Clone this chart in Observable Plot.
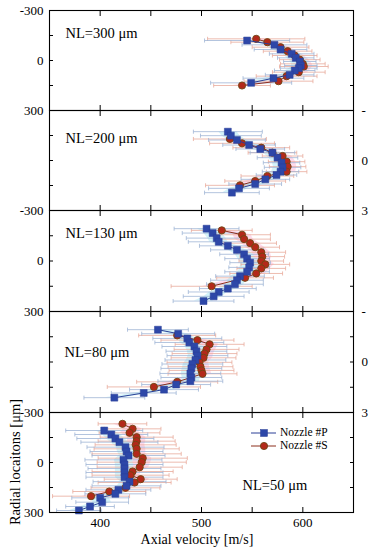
<!DOCTYPE html>
<html>
<head>
<meta charset="utf-8">
<script src="https://cdn.jsdelivr.net/npm/d3@7"></script>
<script src="https://cdn.jsdelivr.net/npm/@observablehq/plot@0.6"></script>
<style>
  html, body { margin: 0; padding: 0; background: #fff; }
  #chart { position: relative; width: 371px; height: 550px; overflow: hidden; font-family: "Liberation Serif", "Times New Roman", serif; }
  #chart svg { position: absolute; left: 0; }
  .ytitle { position: absolute; white-space: nowrap; transform: translate(-50%, -50%) rotate(-90deg); font-size: 14.5px; }
  .xtitle { position: absolute; white-space: nowrap; transform: translate(-50%, -50%); font-size: 14px; }
  .legend { position: absolute; font-size: 11.5px; line-height: 13px; }
  .legend div { display: flex; align-items: center; height: 13px; }
  .legend svg { position: static !important; margin-right: 3px; }
</style>
</head>
<body>
<div id="chart"></div>
<script>
// ---------- data ----------
const panelLabels = ["NL=300 μm", "NL=200 μm", "NL=130 μm", "NL=80 μm", "NL=50 μm"];
const seriesNames = ["Nozzle #P", "Nozzle #S"];
const xTickValues = [400, 450, 500, 550, 600];
const xTickLabelValues = [400, 500, 600];
const yTickValues = [-300, -150, 0, 150, 300];
const yLabelValues = [-300, 0, 300];
const leftTickLabels = [["-300", "0", ""], ["300", "", ""], ["-300", "0", ""], ["300", "", "-300"], ["", "0", "300"]];
// right-hand labels are only partly visible at the picture's edge
const rightTickLabels = [["", "", ""], ["-", "0", "3"], ["", "", ""], ["-", "0", "3"], ["", "", ""]];

// NL = 300 um
const p300_r = [-120, -94, -66, -40, -16, 6, 30, 46, 60, 86, 106, 134];
const p300_v = [545, 572, 578, 589, 593, 597, 598, 596, 592, 587, 571, 549];
const p300_e = [42, 32, 26, 22, 18, 16, 16, 18, 20, 24, 30, 40];
const s300_r = [-130, -110, -80, -56, -30, -5, 20, 36, 70, 94, 124, 150];
const s300_v = [554, 565, 578, 585, 592, 597, 600, 601, 596, 584, 576, 540];
const s300_e = [48, 36, 28, 24, 22, 20, 22, 24, 26, 30, 34, 28];

// NL = 200 um
const p200_r = [-173, -149, -123, -93, -69, -47, -17, 13, 41, 67, 87, 113, 141, 167, 193];
const p200_v = [526, 529, 535, 547, 558, 570, 575, 579, 580, 578, 574, 563, 553, 537, 530];
const p200_e = [34, 30, 28, 26, 24, 22, 20, 18, 18, 18, 20, 24, 26, 30, 27];
const s200_r = [-129, -103, -77, -47, -27, 7, 37, 67, 93, 123, 149];
const s200_v = [528, 540, 559, 570, 580, 584, 585, 584, 565, 553, 538];
const s200_e = [36, 32, 28, 24, 20, 18, 18, 20, 26, 30, 34];

// NL = 130 um
const p130_r = [-192, -166, -136, -114, -90, -66, -40, -14, 10, 38, 64, 90, 114, 138, 164, 184, 210, 238];
const p130_v = [505, 511, 515, 517, 526, 535, 542, 545, 548, 547, 545, 538, 535, 533, 526, 517, 512, 502];
const p130_e = [32, 30, 30, 30, 28, 26, 24, 22, 20, 20, 22, 24, 26, 28, 28, 30, 30, 30];
const s130_r = [-182, -156, -130, -106, -82, -52, -26, 0, 20, 44, 74, 100, 150];
const s130_v = [520, 540, 542, 548, 553, 559, 560, 559, 563, 559, 554, 543, 510];
const s130_e = [30, 28, 26, 26, 24, 24, 22, 22, 24, 24, 26, 28, 40];

// NL = 80 um
const p80_r = [-192, -168, -140, -116, -92, -64, -38, -12, 12, 38, 68, 92, 114, 134, 164, 184, 212];
const p80_v = [457, 477, 486, 488, 493, 495, 496, 494, 491, 490, 489, 490, 489, 475, 463, 443, 414];
const p80_e = [30, 36, 34, 34, 32, 30, 30, 30, 30, 30, 30, 30, 32, 34, 34, 32, 30];
const s80_r = [-158, -130, -105, -75, -50, -25, 2, 28, 50, 70, 118, 148];
const s80_v = [476, 496, 508, 505, 503, 502, 498, 499, 500, 501, 476, 453];
const s80_e = [38, 36, 34, 32, 32, 32, 32, 32, 32, 34, 40, 46];

// NL = 50 um
const p50_r = [-192, -168, -144, -122, -92, -66, -42, -16, 12, 36, 60, 88, 115, 140, 164, 188, 212, 238, 264, 288];
const p50_v = [404, 411, 415, 419, 425, 426, 428, 423, 424, 424, 424, 424, 429, 426, 418, 415, 400, 402, 390, 379];
const p50_e = [38, 36, 38, 38, 38, 36, 36, 38, 38, 36, 38, 38, 36, 34, 32, 30, 28, 26, 24, 22];
const s50_r = [-232, -202, -178, -152, -128, -106, -82, -52, -26, -2, 28, 54, 76, 100, 120, 152, 174, 202];
const s50_v = [422, 432, 429, 436, 436, 435, 436, 436, 442, 441, 439, 432, 430, 440, 434, 425, 409, 391];
const s50_e = [24, 28, 30, 36, 38, 40, 42, 44, 44, 44, 42, 40, 38, 36, 36, 34, 36, 38];

const pR = [p300_r, p200_r, p130_r, p80_r, p50_r];
const pV = [p300_v, p200_v, p130_v, p80_v, p50_v];
const pE = [p300_e, p200_e, p130_e, p80_e, p50_e];
const sR = [s300_r, s200_r, s130_r, s80_r, s50_r];
const sV = [s300_v, s200_v, s130_v, s80_v, s50_v];
const sE = [s300_e, s200_e, s130_e, s80_e, s50_e];

// ---------- layout & style ----------
const W = 371;
const panelTops = [10, 110, 210, 311, 412];
const panelHeights = [100, 100, 101, 101, 100];
const bandHalf = 9;
const fontFam = '"Liberation Serif", "Times New Roman", serif';
const colP = { line: "#2a3f96", fill: "#2d47a8", err: "#9fb5d6", band: "#cdf1f8" };
const colS = { line: "#8c2e1c", fill: "#b3291a", stroke: "#6e4714", err: "#e8ab9c", band: "#ffd4e8" };
const textPos = [[16, 23], [16, 28], [16, 23], [15, 41], [193, 73]];

const capSymbol = {
  draw(ctx, size) { const h = Math.sqrt(size) / 2; ctx.moveTo(0, -h); ctx.lineTo(0, h); }
};

const rows = (r, v, e) => r.map((d, i) => ({ r: d, v: v[i], e: e[i] }));
const chart = document.getElementById("chart");

function errorMarks(data, col) {
  return [
    Plot.link(data, { x1: d => d.v - d.e, x2: d => d.v + d.e, y1: "r", y2: "r", stroke: col.err, strokeWidth: 0.8 }),
    Plot.dot(data, { x: d => d.v - d.e, y: "r", symbol: capSymbol, r: 2.3, stroke: col.err, strokeWidth: 0.8, fill: "none" }),
    Plot.dot(data, { x: d => d.v + d.e, y: "r", symbol: capSymbol, r: 2.3, stroke: col.err, strokeWidth: 0.8, fill: "none" })
  ];
}

for (let k = 0; k < 5; k++) {
  const P = rows(pR[k], pV[k], pE[k]);
  const S = rows(sR[k], sV[k], sE[k]);
  const mt = 12, mb = k === 4 ? 40 : 12;
  const last = k === 4;
  const marks = [
    Plot.areaX(S, { y: "r", x1: d => d.v - bandHalf, x2: d => d.v + bandHalf, fill: colS.band, fillOpacity: 0.85 }),
    Plot.areaX(P, { y: "r", x1: d => d.v - bandHalf, x2: d => d.v + bandHalf, fill: colP.band, fillOpacity: 0.85 }),
    ...errorMarks(S, colS),
    ...errorMarks(P, colP),
    Plot.line(S, { x: "v", y: "r", stroke: colS.line, strokeWidth: 1 }),
    Plot.dot(S, { x: "v", y: "r", symbol: "circle", r: 3.6, fill: colS.fill, stroke: colS.stroke, strokeWidth: 0.9 }),
    Plot.line(P, { x: "v", y: "r", stroke: colP.line, strokeWidth: 1 }),
    Plot.dot(P, { x: "v", y: "r", symbol: "square", r: 3.9, fill: colP.fill, stroke: colP.line, strokeWidth: 0.5 }),
    Plot.frame({ stroke: "black", strokeWidth: 1.1 }),
    Plot.axisX({ anchor: "bottom", ticks: xTickValues, tickSize: -5, tickFormat: () => "", label: null }),
    Plot.axisX({ anchor: "top", ticks: xTickValues, tickSize: -5, tickFormat: () => "", label: null }),
    Plot.axisY({ anchor: "left", ticks: yTickValues, tickSize: -4, tickFormat: () => "", label: null }),
    Plot.axisY({ anchor: "right", ticks: yTickValues, tickSize: -4, tickFormat: () => "", label: null }),
    Plot.axisY({ anchor: "left", ticks: yLabelValues, tickSize: 0, tickPadding: 6, label: null,
      tickFormat: d => leftTickLabels[k][yLabelValues.indexOf(d)] }),
    Plot.axisY({ anchor: "right", ticks: yLabelValues, tickSize: 0, tickPadding: 8, label: null,
      tickFormat: d => rightTickLabels[k][yLabelValues.indexOf(d)] }),
    Plot.text([panelLabels[k]], { text: d => d, frameAnchor: "top-left", dx: textPos[k][0], dy: textPos[k][1],
      textAnchor: "start", lineAnchor: "middle", fontSize: 14.5, fill: "black" })
  ];
  if (last) {
    marks.push(Plot.axisX({ anchor: "bottom", ticks: xTickLabelValues, tickSize: 0, tickPadding: 5, label: null }));
  }
  const svg = Plot.plot({
    width: W,
    height: panelHeights[k] + mt + mb,
    marginLeft: 49, marginRight: 18, marginTop: mt, marginBottom: mb,
    style: { fontFamily: fontFam, fontSize: "13px", background: "transparent", overflow: "visible", color: "black" },
    x: { domain: [350, 650], label: null },
    y: { domain: [-300, 300], reverse: true, label: null },
    marks
  });
  svg.style.top = (panelTops[k] - mt) + "px";
  chart.appendChild(svg);
}

// axis titles
const yt = document.createElement("div");
yt.className = "ytitle";
yt.textContent = "Radial locaitons [μm]";
yt.style.left = "15px"; yt.style.top = "462px";
chart.appendChild(yt);

const xt = document.createElement("div");
xt.className = "xtitle";
xt.textContent = "Axial velocity [m/s]";
xt.style.left = "197px"; xt.style.top = "540px";
chart.appendChild(xt);

// legend
const leg = d3.select(chart).append("div").attr("class", "legend").style("left", "251px").style("top", "426px");
[[seriesNames[0], colP, "square"], [seriesNames[1], colS, "circle"]].forEach(([name, col, sym]) => {
  const row = leg.append("div");
  const s = row.append("svg").attr("width", 26).attr("height", 12);
  s.append("line").attr("x1", 0).attr("x2", 25).attr("y1", 6).attr("y2", 6).attr("stroke", col.line).attr("stroke-width", 1);
  if (sym === "square") s.append("rect").attr("x", 9.5).attr("y", 2.5).attr("width", 7).attr("height", 7).attr("fill", col.fill).attr("stroke", col.line).attr("stroke-width", 0.5);
  else s.append("circle").attr("cx", 13).attr("cy", 6).attr("r", 3.6).attr("fill", col.fill).attr("stroke", col.stroke).attr("stroke-width", 0.9);
  row.append("span").text(name);
});
</script>
</body>
</html>
